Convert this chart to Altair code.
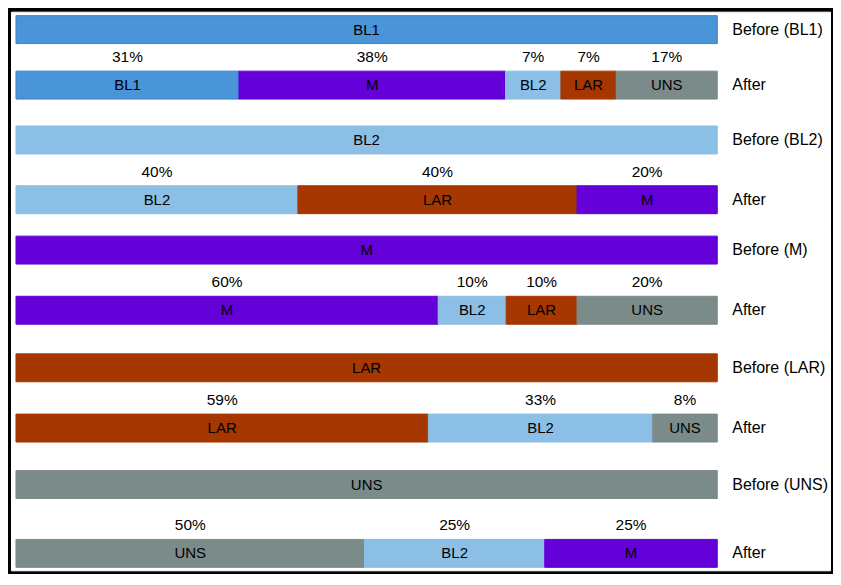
import altair as alt
import pandas as pd

# ---------------- data ----------------
groups = ["BL1", "BL2", "M", "LAR", "UNS"]
before_labels = ["Before (BL1)", "Before (BL2)", "Before (M)", "Before (LAR)", "Before (UNS)"]
after_label = "After"

after_cats = [
    ["BL1", "M", "BL2", "LAR", "UNS"],
    ["BL2", "LAR", "M"],
    ["M", "BL2", "LAR", "UNS"],
    ["LAR", "BL2", "UNS"],
    ["UNS", "BL2", "M"],
]
# segment shares as drawn in the picture (percent of bar length)
after_values = [
    [31.8, 38.0, 7.9, 7.9, 14.4],
    [40.2, 39.8, 20.0],
    [60.2, 9.7, 10.1, 20.0],
    [58.8, 32.0, 9.2],
    [49.7, 25.7, 24.6],
]
after_pct_labels = [
    ["31%", "38%", "7%", "7%", "17%"],
    ["40%", "40%", "20%"],
    ["60%", "10%", "10%", "20%"],
    ["59%", "33%", "8%"],
    ["50%", "25%", "25%"],
]

cat_domain = ["BL1", "BL2", "M", "LAR", "UNS"]
cat_colors = ["#4A94D8", "#8BBFE5", "#6400D8", "#A63700", "#7B8B8A"]
cat_strokes = ["#3A7ED0", "#8BBFE5", "#6400D8", "#A63700", "#7B8B8A"]

# ---------------- layout ----------------
FONT = "Liberation Sans"
PANEL_W = 821
panel_h = [101, 113, 114, 118, 114]
row_span = [[4, 87.6], [13.6, 101.5], [11, 99.3], [15, 103.4], [14, 111]]
BAR = 28
X_RANGE = [5, 708]
LABEL_X = 722.5


def panel(i):
    recs = [dict(row=before_labels[i], cat=groups[i], value=100.0, order=0, pct="")]
    for j, (c, v, p) in enumerate(zip(after_cats[i], after_values[i], after_pct_labels[i])):
        recs.append(dict(row=after_label, cat=c, value=v, order=j, pct=p))
    df = pd.DataFrame(recs)

    r0, r1 = row_span[i]
    d = (r1 - r0) - BAR
    yscale = alt.Scale(domain=[before_labels[i], after_label], range=[r0, r1],
                       paddingInner=1 - BAR / d, paddingOuter=0, round=False)
    xscale = alt.Scale(domain=[0, 100], range=X_RANGE, nice=False, zero=False)

    base = (
        alt.Chart(df)
        .transform_stack(stack="value", groupby=["row"], as_=["x0", "x1"],
                         sort=[alt.SortField("order", order="ascending")])
        .transform_calculate(mid="(datum.x0 + datum.x1) / 2")
    )

    y_axis = alt.Axis(orient="right", offset=LABEL_X - PANEL_W, ticks=False, domain=False,
                      grid=False, labelPadding=0, title=None, labelFont=FONT,
                      labelFontSize=16, labelColor="black", labelAlign="left",
                      labelBaseline="middle")
    y_enc = alt.Y("row:N", scale=yscale, axis=y_axis, sort=None)

    bars = base.mark_bar(strokeWidth=1).encode(
        x=alt.X("x0:Q", scale=xscale, axis=None),
        x2="x1:Q",
        y=y_enc,
        color=alt.Color("cat:N", scale=alt.Scale(domain=cat_domain, range=cat_colors), legend=None),
        stroke=alt.Stroke("cat:N", scale=alt.Scale(domain=cat_domain, range=cat_strokes), legend=None),
    )
    names = base.mark_text(font=FONT, fontSize=15, color="black", baseline="middle").encode(
        x=alt.X("mid:Q", scale=xscale, axis=None),
        y=y_enc,
        text="cat:N",
    )
    pcts = base.transform_filter(alt.datum.row == after_label).mark_text(
        font=FONT, fontSize=15.5, color="black", baseline="middle", dy=-28
    ).encode(
        x=alt.X("mid:Q", scale=xscale, axis=None),
        y=y_enc,
        text="pct:N",
    )
    return alt.layer(bars, names, pcts).properties(width=PANEL_W, height=panel_h[i])


chart = (
    alt.vconcat(*[panel(i) for i in range(len(groups))], spacing=0, bounds="flush")
    .properties(background="black", padding=2)
    .configure(font=FONT)
    .configure_view(fill="white", stroke="white", strokeWidth=1)
    .configure_concat(spacing=0)
)

chart.save("out.html", embed_options={"renderer": "svg", "actions": False})
